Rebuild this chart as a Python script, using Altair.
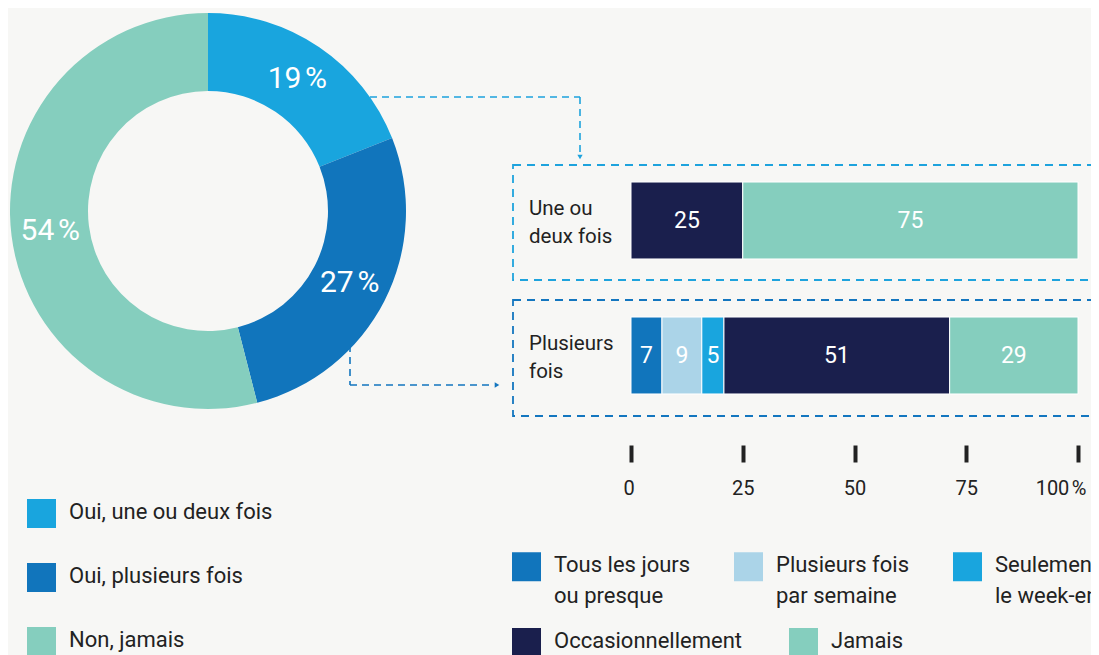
import altair as alt
import pandas as pd

FONT = "Roboto"
TXT = "#222222"

# ---- data ----
donut_cats = ["Oui, une ou deux fois", "Oui, plusieurs fois", "Non, jamais"]
donut_vals = [19, 27, 54]
donut_colors = ["#19a5de", "#1175bc", "#85cebe"]

bar_rows = ["Une ou deux fois", "Plusieurs fois"]
bar_row_labels = ["Une ou\ndeux fois", "Plusieurs\nfois"]
freq_cats = ["Tous les jours|ou presque", "Plusieurs fois|par semaine",
             "Seulement|le week-end", "Occasionnellement", "Jamais"]
freq_colors = ["#1175bc", "#abd4e8", "#19a5de", "#1a1f4d", "#85cebe"]
row1_vals = [0, 0, 0, 25, 75]
row2_vals = [7, 9, 5, 51, 29]
tick_vals = [0, 25, 50, 75, 100]

# ---- tables ----
donut_df = pd.DataFrame({
    "cat": donut_cats,
    "val": donut_vals,
    "order": list(range(len(donut_cats))),
    "label": [f"{v}\u202f%" for v in donut_vals],
})

recs = []
for row, vals in zip(bar_rows, [row1_vals, row2_vals]):
    total = sum(vals)
    acc = 0.0
    for c, v in zip(freq_cats, vals):
        if v == 0:
            continue
        x0 = acc / total * 100
        acc += v
        x1 = acc / total * 100
        recs.append({"row": row, "cat": c, "val": v, "x0": x0, "x1": x1, "mid": (x0 + x1) / 2})
bar_df = pd.DataFrame(recs)
rowlab_df = pd.DataFrame({"row": bar_rows, "label": bar_row_labels})
leg2_df = pd.DataFrame({"cat": freq_cats[3:]})
one = pd.DataFrame({"k": [0]})

# ---- scales ----
xscale = alt.Scale(domain=[0, 100], range=[623, 1070])
yscale = alt.Scale(domain=bar_rows, range=[145, 415], paddingInner=0.43, paddingOuter=0.215)
CX, CY = 200, 203

LEG = dict(orient="none", title=None, symbolType="square", symbolSize=841, symbolStrokeWidth=0,
           symbolOpacity=1, labelFontSize=22, labelColor=TXT, labelFont=FONT, labelOffset=13,
           labelBaseline="top", labelLimit=400, padding=0)

# ---- donut ----
arc = alt.Chart(donut_df).mark_arc(innerRadius=120, outerRadius=198).encode(
    theta=alt.Theta("val:Q", stack=True),
    color=alt.Color("cat:N", scale=alt.Scale(domain=donut_cats, range=donut_colors),
                    legend=alt.Legend(legendX=19, legendY=491, rowPadding=35,
                                      direction="vertical", **LEG)),
    order=alt.Order("order:Q"),
    x=alt.value(CX), y=alt.value(CY),
)
arc_txt = alt.Chart(donut_df).mark_text(radius=159, fontSize=30, color="white", font=FONT).encode(
    theta=alt.Theta("val:Q", stack=True),
    detail="cat:N",
    order=alt.Order("order:Q"),
    text="label:N",
    x=alt.value(CX), y=alt.value(CY),
)

# ---- bars ----
bars = alt.Chart(bar_df).mark_bar(stroke="white", strokeWidth=1).encode(
    x=alt.X("x0:Q", scale=xscale,
            axis=alt.Axis(values=tick_vals, title=None, domain=False, grid=False,
                          labelFlush=True, labelFlushOffset=8,
                          tickWidth=4, tickSize=17, tickColor=TXT,
                          labelFontSize=20, labelColor=TXT, labelFont=FONT, labelPadding=28,
                          labelExpr="datum.value == 100 ? '100\u202f%' : datum.label",
                          offset=-210)),
    x2="x1:Q",
    y=alt.Y("row:N", scale=yscale, axis=None),
    color=alt.Color("cat:N", scale=alt.Scale(domain=freq_cats, range=freq_colors),
                    legend=alt.Legend(legendX=504, legendY=544, values=freq_cats[:3],
                                      columns=3, direction="horizontal", columnPadding=43,
                                      labelExpr="split(datum.label, '|')", **LEG)),
)
# second legend row (same colours, separate legend so its columns flow independently)
leg2 = alt.Chart(leg2_df).mark_bar(opacity=0).encode(
    x=alt.value(0), x2=alt.value(1), y=alt.value(0), y2=alt.value(1),
    color=alt.Color("cat:N", scale=alt.Scale(domain=freq_cats[3:], range=freq_colors[3:]),
                    legend=alt.Legend(legendX=504, legendY=620, columns=2,
                                      direction="horizontal", columnPadding=46, **LEG)),
)
bar_txt = alt.Chart(bar_df).mark_text(color="white", fontSize=23, font=FONT).encode(
    x=alt.X("mid:Q", scale=xscale),
    y=alt.Y("row:N", scale=yscale),
    text="val:Q",
)
row_txt = alt.Chart(rowlab_df).mark_text(align="left", baseline="middle", lineBreak="\n",
                                         lineHeight=28, dy=-12, fontSize=20.5, color=TXT,
                                         font=FONT).encode(
    x=alt.value(521),
    y=alt.Y("row:N", scale=yscale),
    text="label:N",
)

# ---- decorations (dashed boxes & connectors) ----
LB, DB = "#1ea3dd", "#1376bf"
dash = [8, 6]
box1 = alt.Chart(one).mark_rect(fillOpacity=0, stroke=LB, strokeWidth=1.8, strokeDash=dash).encode(
    x=alt.value(505), x2=alt.value(1120), y=alt.value(157), y2=alt.value(272))
box2 = alt.Chart(one).mark_rect(fillOpacity=0, stroke=DB, strokeWidth=1.8, strokeDash=dash).encode(
    x=alt.value(505), x2=alt.value(1120), y=alt.value(292), y2=alt.value(408))

def seg(x1, y1, x2, y2, col):
    return alt.Chart(one).mark_rule(stroke=col, strokeWidth=1.6, strokeDash=[7, 5]).encode(
        x=alt.value(x1), x2=alt.value(x2), y=alt.value(y1), y2=alt.value(y2))

c1a = seg(362, 89, 572, 89, LB)
c1b = seg(572, 89, 572, 146, LB)
c2a = seg(342, 337, 342, 377, DB)
c2b = seg(342, 377, 486, 377, DB)
arr1 = alt.Chart(one).mark_point(shape="triangle-down", filled=True, size=28, color=LB, opacity=1).encode(
    x=alt.value(572), y=alt.value(149))
arr2 = alt.Chart(one).mark_point(shape="triangle-right", filled=True, size=28, color=DB, opacity=1).encode(
    x=alt.value(489), y=alt.value(377))

chart = alt.layer(
    box1, box2, c1a, c1b, c2a, c2b, arr1, arr2,
    arc, arc_txt, bars, leg2, bar_txt, row_txt,
).resolve_scale(color="independent").properties(
    width=1083, height=647, autosize=alt.AutoSizeParams(type="none"), padding=0,
    background="#f7f7f5",
).configure(
    font=FONT,
    view={"strokeOpacity": 0},
    style={"guide-label": {"dy": -12, "lineHeight": 31}},
)

chart.save("out.html", embed_options={"renderer": "svg", "actions": False})
